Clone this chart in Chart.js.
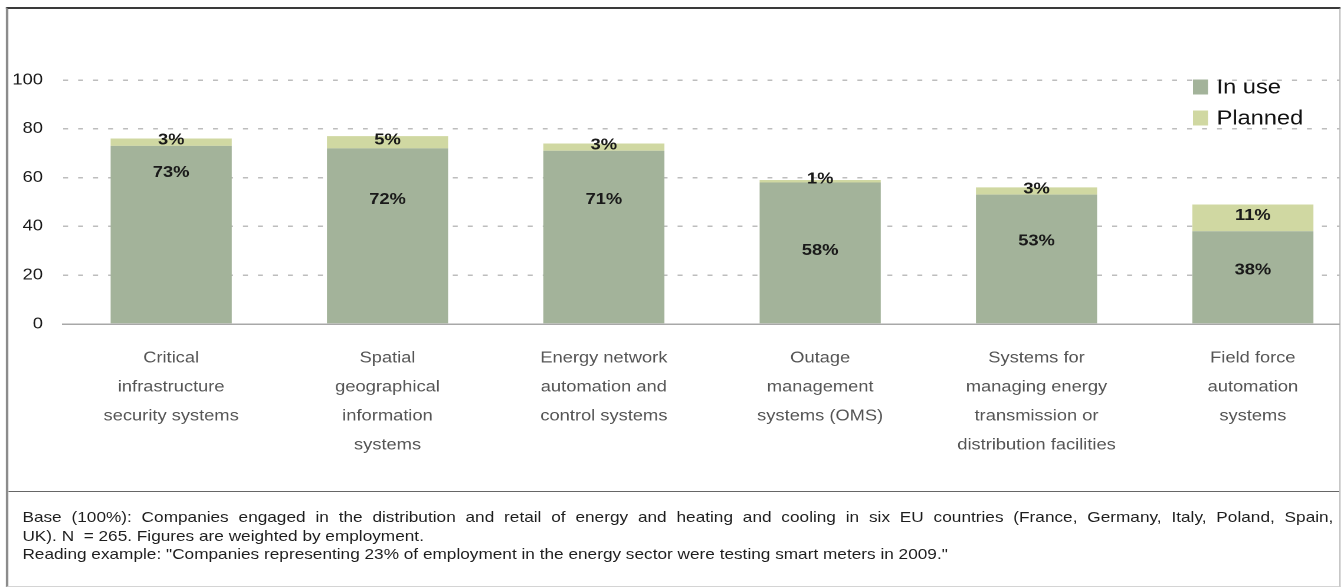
<!DOCTYPE html>
<html>
<head>
<meta charset="utf-8">
<script src="https://cdn.jsdelivr.net/npm/chart.js@4"></script>
<style>
  html, body { margin: 0; padding: 0; background: #fff; overflow: hidden; }
  /* the artwork is laid out narrow and widened as a whole */
  #page {
    position: absolute; left: 0; top: 0;
    width: 1139px; height: 588px;
    transform: scaleX(1.18); transform-origin: 0 0;
    font-family: "Liberation Sans", Arial, sans-serif;
  }
  #frame {
    position: absolute; left: 5px; top: 7px;
    width: 1128px; height: 577px;
    border-top: 2px solid #3a3a3a;
    border-left: 2px solid #8c8c8c;
    border-right: 1px solid #b0b0b0;
    border-bottom: 1px solid #d4d4d4;
    overflow: hidden;
  }
  #chartBox { position: absolute; left: -7px; top: -9px; width: 1175px; height: 484px; }
  #rule { position: absolute; left: 0; right: 0; top: 482px; border-top: 1.5px solid #666; }
  #note {
    position: absolute; left: 12px; top: 499px; width: 1111px;
    font-size: 14.6px; line-height: 18.5px; color: #1e1e1e; white-space: nowrap;
  }
  #note .just { text-align: justify; text-align-last: justify; white-space: normal; }
</style>
</head>
<body>
<div id="page">
  <div id="frame">
    <div id="chartBox"><canvas id="chart"></canvas></div>
    <div id="rule"></div>
    <div id="note">
      <div class="just">Base (100%): Companies engaged in the distribution and retail of energy and heating and cooling in six EU countries (France, Germany, Italy, Poland, Spain,</div>
      <div>UK). N &nbsp;= 265. Figures are weighted by employment.</div>
      <div>Reading example: "Companies representing 23% of employment in the energy sector were testing smart meters in 2009."</div>
    </div>
  </div>
</div>
<script>
// Categories, wrapped the way they are printed under the axis
const categories = [
    ['Critical', 'infrastructure', 'security systems'],
    ['Spatial', 'geographical', 'information', 'systems'],
    ['Energy network', 'automation and', 'control systems'],
    ['Outage', 'management', 'systems (OMS)'],
    ['Systems for', 'managing energy', 'transmission or', 'distribution facilities'],
    ['Field force', 'automation', 'systems']
];

// Share of companies (% of employment)
const inUse = [73, 72, 71, 58, 53, 38];
const planned = [3, 5, 3, 1, 3, 11];

const yTicks = [0, 20, 40, 60, 80, 100];

// Where each "in use" percentage sits, in axis units
const inUseLabelAt = [62, 51, 51, 30, 34, 22];

const COLORS = {
    inUse: '#a3b39a',
    planned: '#d0d8a2'
};

const FONT = '"Liberation Sans", Arial, sans-serif';

// Value labels on the stacked segments
const segmentLabels = {
    id: 'segmentLabels',
    afterDatasetsDraw(chart) {
        const ctx = chart.ctx;
        const yScale = chart.scales.y;
        ctx.save();
        ctx.font = 'bold 15.5px ' + FONT;
        ctx.fillStyle = '#1a1a1a';
        ctx.textAlign = 'center';
        ctx.textBaseline = 'middle';

        chart.getDatasetMeta(0).data.forEach((bar, i) => {
            ctx.fillText(inUse[i] + '%', bar.x, yScale.getPixelForValue(inUseLabelAt[i]));
        });
        chart.getDatasetMeta(1).data.forEach((bar, i) => {
            ctx.fillText(planned[i] + '%', bar.x, (bar.y + bar.base) / 2 - 2);
        });
        ctx.restore();
    }
};

// Legend in the upper right corner
const cornerLegend = {
    id: 'cornerLegend',
    afterDraw(chart) {
        const ctx = chart.ctx;
        ctx.save();
        ctx.font = '20px ' + FONT;
        ctx.textBaseline = 'middle';
        chart.data.datasets.forEach((ds, i) => {
            const y = 87 + i * 31;
            ctx.fillStyle = ds.backgroundColor;
            ctx.fillRect(1011, y - 7.5, 12.7, 15);
            ctx.fillStyle = '#111';
            ctx.fillText(ds.label, 1031, y + 1);
        });
        ctx.restore();
    }
};

new Chart(document.getElementById('chart'), {
    type: 'bar',
    data: {
        labels: categories,
        datasets: [
            { label: 'In use', data: inUse, backgroundColor: COLORS.inUse },
            { label: 'Planned', data: planned, backgroundColor: COLORS.planned }
        ]
    },
    options: {
        responsive: true,
        maintainAspectRatio: false,
        animation: false,
        devicePixelRatio: 2,
        layout: {
            padding: { top: 80, right: 21.6, bottom: 0, left: 0 }
        },
        datasets: {
            bar: { barPercentage: 0.56, categoryPercentage: 1, borderWidth: 0 }
        },
        plugins: {
            legend: { display: false },
            tooltip: { enabled: false }
        },
        scales: {
            x: {
                stacked: true,
                grid: { display: false, drawTicks: false },
                border: { display: true, color: '#a8a8a8', width: 1.5 },
                ticks: {
                    padding: 19.5,
                    maxRotation: 0,
                    autoSkip: false,
                    color: '#555',
                    font: { family: FONT, size: 15.5, lineHeight: '29px' }
                },
                afterFit(scale) { scale.height = 160; }
            },
            y: {
                stacked: true,
                min: 0,
                max: 100,
                afterBuildTicks(scale) {
                    scale.ticks = yTicks.map(v => ({ value: v }));
                },
                grid: {
                    drawTicks: false,
                    lineWidth: 1.5,
                    color: ctx => ctx.tick && ctx.tick.value === 0 ? 'rgba(0,0,0,0)' : '#bdbdbd'
                },
                border: { display: false, dash: [4.2, 8.5] },
                ticks: {
                    padding: 17,
                    color: '#1a1a1a',
                    font: { family: FONT, size: 15.5 }
                },
                afterFit(scale) { scale.width = 53.4; }
            }
        }
    },
    plugins: [segmentLabels, cornerLegend]
});
</script>
</body>
</html>
